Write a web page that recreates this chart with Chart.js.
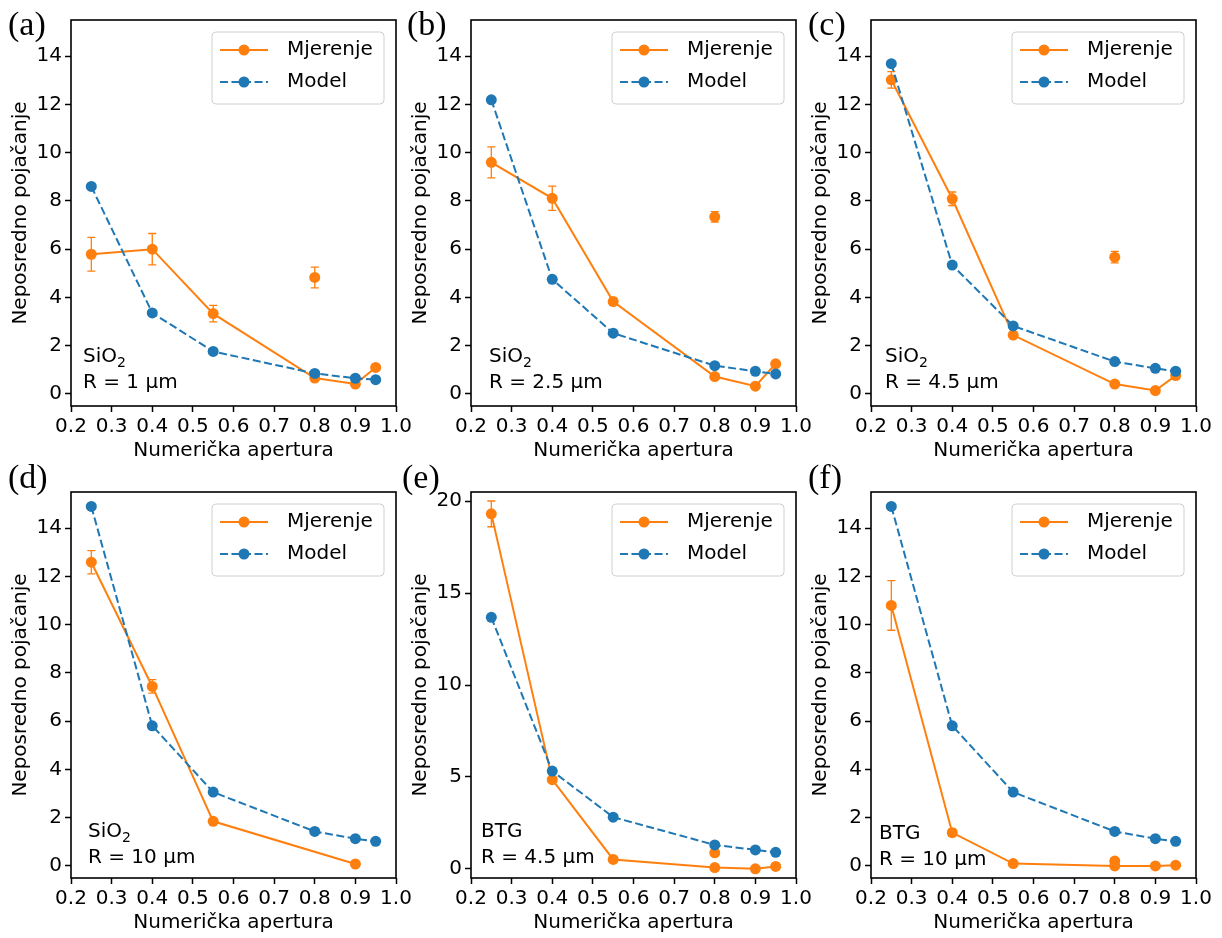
<!DOCTYPE html>
<html>
<head>
<meta charset="utf-8">
<script src="https://cdn.jsdelivr.net/npm/chart.js@4.4.0/dist/chart.umd.min.js"></script>
<style>
  body{margin:0;background:#fff;width:1222px;height:938px;overflow:hidden;position:relative;font-family:"DejaVu Sans";}
  canvas{position:absolute;}
  .lbl{position:absolute;font-family:"Liberation Serif";font-size:34px;line-height:34px;color:#000;}
  .note{position:absolute;font-size:20px;line-height:26px;white-space:nowrap;color:#000;}
  .note sub{font-size:14px;vertical-align:baseline;position:relative;top:5px;line-height:0;}
</style>
</head>
<body>
<canvas id="pa" width="420" height="470" style="left:0;top:0"></canvas>
<canvas id="pb" width="420" height="470" style="left:400px;top:0"></canvas>
<canvas id="pc" width="420" height="470" style="left:800px;top:0"></canvas>
<canvas id="pd" width="420" height="470" style="left:0;top:472px"></canvas>
<canvas id="pe" width="420" height="470" style="left:400px;top:472px"></canvas>
<canvas id="pf" width="420" height="470" style="left:800px;top:472px"></canvas>

<div class="lbl" style="left:8px;top:7px">(a)</div>
<div class="lbl" style="left:407px;top:7px">(b)</div>
<div class="lbl" style="left:808px;top:7px">(c)</div>
<div class="lbl" style="left:8px;top:460px">(d)</div>
<div class="lbl" style="left:402px;top:460px">(e)</div>
<div class="lbl" style="left:808px;top:460px">(f)</div>

<div class="note" style="left:83px;top:342px">SiO<sub>2</sub><br>R = 1 μm</div>
<div class="note" style="left:489px;top:342px">SiO<sub>2</sub><br>R = 2.5 μm</div>
<div class="note" style="left:885px;top:342px">SiO<sub>2</sub><br>R = 4.5 μm</div>
<div class="note" style="left:88px;top:817px">SiO<sub>2</sub><br>R = 10 μm</div>
<div class="note" style="left:481px;top:817px">BTG<br>R = 4.5 μm</div>
<div class="note" style="left:879px;top:819px">BTG<br>R = 10 μm</div>

<script>
// x values (numerical aperture)
const apertures = [0.25, 0.4, 0.55, 0.8, 0.9, 0.95];
const xTicks = [0.2, 0.3, 0.4, 0.5, 0.6, 0.7, 0.8, 0.9, 1.0];
const yTicks = [0, 2, 4, 6, 8, 10, 12, 14];
const yTicksWide = [0, 5, 10, 15, 20];
const extraX = 0.8;

// (a) SiO2, R = 1 um
const measA = [5.79, 6.0, 3.33, 0.66, 0.41, 1.10];
const errA = [0.70, 0.65, 0.34, 0.05, 0.05, 0.05];
const modelA = [8.6, 3.36, 1.76, 0.85, 0.65, 0.59];
const extraA = 4.83, extraErrA = 0.43;

// (b) SiO2, R = 2.5 um
const measB = [9.6, 8.11, 3.83, 0.72, 0.32, 1.25];
const errB = [0.64, 0.50, 0.15, 0.05, 0.05, 0.05];
const modelB = [12.19, 4.75, 2.52, 1.17, 0.94, 0.83];
const extraB = 7.34, extraErrB = 0.22;

// (c) SiO2, R = 4.5 um
const measC = [13.02, 8.09, 2.44, 0.41, 0.14, 0.76];
const errC = [0.34, 0.28, 0.05, 0.05, 0.05, 0.05];
const modelC = [13.69, 5.34, 2.82, 1.34, 1.06, 0.94];
const extraC = 5.67, extraErrC = 0.24;

// (d) SiO2, R = 10 um
const measD = [12.59, 7.44, 1.85, null, 0.08, null];
const errD = [0.48, 0.28, 0.05, 0, 0.05, 0];
const modelD = [14.9, 5.81, 3.06, 1.43, 1.13, 1.02];

// (e) BTG, R = 4.5 um
const measE = [19.31, 4.85, 0.51, 0.07, 0.0, 0.13];
const errE = [0.70, 0.15, 0.05, 0.05, 0.05, 0.05];
const modelE = [13.68, 5.32, 2.81, 1.30, 1.03, 0.90];
const extraE = 0.87, extraErrE = 0.05;

// (f) BTG, R = 10 um
const measF = [10.8, 1.38, 0.1, 0.0, 0.0, 0.03];
const errF = [1.03, 0.15, 0.03, 0.03, 0.03, 0.03];
const modelF = [14.9, 5.81, 3.06, 1.43, 1.13, 1.02];
const extraF = 0.2, extraErrF = 0.03;

const ORANGE = '#ff7f0e';
const BLUE = '#1f77b4';

// error bars drawn with the chart's own scales
const errorBars = {
  id: 'errorBars',
  beforeDatasetsDraw(chart) {
    const {ctx, scales: {x, y}} = chart;
    chart.data.datasets.forEach(ds => {
      if (!ds.errors) return;
      ctx.save();
      ctx.strokeStyle = ds.borderColor;
      ctx.lineWidth = 1.3;
      ds.data.forEach((p, j) => {
        const e = ds.errors[j];
        if (p.y == null || !e) return;
        const px = x.getPixelForValue(p.x);
        const top = y.getPixelForValue(p.y + e);
        const bot = y.getPixelForValue(p.y - e);
        ctx.beginPath();
        ctx.moveTo(px, top); ctx.lineTo(px, bot);
        ctx.moveTo(px - 4, top); ctx.lineTo(px + 4, top);
        ctx.moveTo(px - 4, bot); ctx.lineTo(px + 4, bot);
        ctx.stroke();
      });
      ctx.restore();
    });
  }
};

// full box around the plot area
const frame = {
  id: 'frame',
  afterDraw(chart) {
    const {ctx, chartArea: a} = chart;
    ctx.save();
    ctx.strokeStyle = '#000';
    ctx.lineWidth = 1.6;
    ctx.strokeRect(a.left, a.top, a.right - a.left, a.bottom - a.top);
    ctx.restore();
  }
};

// matplotlib style legend box
const boxLegend = {
  id: 'boxLegend',
  afterDraw(chart) {
    const {ctx, chartArea: a} = chart;
    const w = 172, h = 72;
    const bx = a.right - 12 - w, by = a.top + 12;
    ctx.save();
    ctx.beginPath();
    ctx.roundRect(bx, by, w, h, 4);
    ctx.fillStyle = 'rgba(255,255,255,0.8)';
    ctx.fill();
    ctx.strokeStyle = '#d0d0d0';
    ctx.lineWidth = 1;
    ctx.stroke();
    const items = chart.data.datasets.filter(d => d.legendRow != null);
    items.forEach(ds => {
      const ry = by + 18 + ds.legendRow * 32;
      ctx.strokeStyle = ds.borderColor;
      ctx.lineWidth = 2;
      ctx.setLineDash(ds.borderDash || []);
      ctx.beginPath();
      ctx.moveTo(bx + 8, ry); ctx.lineTo(bx + 56, ry);
      ctx.stroke();
      ctx.setLineDash([]);
      ctx.fillStyle = ds.borderColor;
      ctx.beginPath();
      ctx.arc(bx + 32, ry, 5.5, 0, Math.PI * 2);
      ctx.fill();
      ctx.fillStyle = '#000';
      ctx.font = '20px "DejaVu Sans"';
      ctx.textBaseline = 'middle';
      ctx.fillText(ds.label, bx + 75, ry);
    });
    ctx.restore();
  }
};

function pts(vals) {
  return apertures.map((a, i) => ({x: a, y: vals[i]}));
}

function makeChart(id, meas, err, model, extra, extraErr, yMin, yMax, ticks) {
  const datasets = [
    {label: 'Model', data: pts(model), borderColor: BLUE, backgroundColor: BLUE,
     borderDash: [8, 3.5], borderWidth: 2, pointRadius: 5.5, pointBorderWidth: 0,
     pointBackgroundColor: BLUE, order: 0, legendRow: 1},
    {label: 'Mjerenje', data: pts(meas), errors: err, borderColor: ORANGE, backgroundColor: ORANGE,
     borderWidth: 2, pointRadius: 5.5, pointBorderWidth: 0, pointBackgroundColor: ORANGE,
     spanGaps: true, order: 1, legendRow: 0}
  ];
  if (extra != null) {
    datasets.push({label: 'extra', data: [{x: extraX, y: extra}], errors: [extraErr],
      borderColor: ORANGE, backgroundColor: ORANGE, showLine: false, pointRadius: 5.5,
      pointBorderWidth: 0, pointBackgroundColor: ORANGE, order: 1});
  }
  const tickFont = {family: 'DejaVu Sans', size: 20};
  new Chart(document.getElementById(id), {
    type: 'line',
    data: {datasets},
    options: {
      responsive: false,
      animation: false,
      events: [],
      elements: {line: {tension: 0}},
      layout: {padding: {top: 20, right: 24, left: 0, bottom: 0}},
      plugins: {legend: {display: false}, tooltip: {enabled: false}},
      scales: {
        x: {
          type: 'linear', min: 0.2, max: 1.0,
          afterBuildTicks: s => { s.ticks = xTicks.map(v => ({value: v})); },
          afterFit: s => { s.height = 64; },
          ticks: {font: tickFont, color: '#000', autoSkip: false, maxRotation: 0, padding: 3,
                  callback: v => v.toFixed(1)},
          grid: {drawOnChartArea: false, drawTicks: true, tickLength: 6, tickWidth: 1.5, tickColor: '#000'},
          border: {display: false},
          title: {display: true, text: 'Numerička apertura', color: '#000',
                  font: {family: 'DejaVu Sans', size: 20}, padding: {top: 0, bottom: 7}}
        },
        y: {
          min: yMin, max: yMax,
          afterBuildTicks: s => { s.ticks = ticks.map(v => ({value: v})); },
          afterFit: s => { s.width = 71; },
          ticks: {font: tickFont, color: '#000', padding: 3},
          grid: {drawOnChartArea: false, drawTicks: true, tickLength: 6, tickWidth: 1.5, tickColor: '#000'},
          border: {display: false},
          title: {display: true, text: 'Neposredno pojačanje', color: '#000',
                  font: {family: 'DejaVu Sans', size: 20}, padding: {top: 9, bottom: 0}}
        }
      }
    },
    plugins: [errorBars, frame, boxLegend]
  });
}

makeChart('pa', measA, errA, modelA, extraA, extraErrA, -0.5, 15.5, yTicks);
makeChart('pb', measB, errB, modelB, extraB, extraErrB, -0.5, 15.5, yTicks);
makeChart('pc', measC, errC, modelC, extraC, extraErrC, -0.5, 15.5, yTicks);
makeChart('pd', measD, errD, modelD, null, null, -0.5, 15.5, yTicks);
makeChart('pe', measE, errE, modelE, extraE, extraErrE, -0.5, 20.5, yTicksWide);
makeChart('pf', measF, errF, modelF, extraF, extraErrF, -0.5, 15.5, yTicks);
</script>
</body>
</html>
